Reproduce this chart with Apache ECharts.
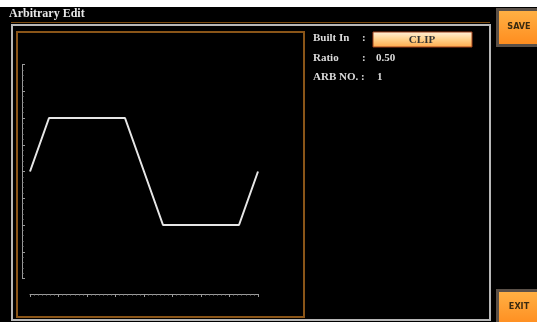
<!DOCTYPE html>
<html><head><meta charset="utf-8">
<script src="https://cdn.jsdelivr.net/npm/echarts@6/dist/echarts.min.js"></script>
<style>html,body{margin:0;padding:0;background:#fff}#c{width:537px;height:322px}</style>
</head><body><div id="c"></div>
<script>
// Waveform sample positions (1/12 of period units) and clipped amplitudes
const xPoints = [0, 1, 5, 7, 11, 12];
const yValues = [0, 0.5, 0.5, -0.5, -0.5, 0];
const panelLabels = ['Built In', 'Ratio', 'ARB NO.'];
const panelValues = ['CLIP', '0.50', '1'];
const titleText = 'Arbitrary Edit';
const buttonLabels = ['SAVE', 'EXIT'];

const data = xPoints.map((x, i) => [x, yValues[i]]);
const serif = '"Liberation Serif", "DejaVu Serif", serif';
const cond = '"DejaVu Sans Condensed", "DejaVu Sans", sans-serif';

const chart = echarts.init(document.getElementById('c'), null, {renderer: 'canvas'});
const orangeGrad = new echarts.graphic.LinearGradient(0, 0, 0, 1, [
  {offset: 0, color: '#ffb347'}, {offset: 1, color: '#ff8a1c'}]);
const clipGrad = new echarts.graphic.LinearGradient(0, 0, 0, 1, [
  {offset: 0, color: '#fff1dc'}, {offset: 0.5, color: '#ffd08a'}, {offset: 1, color: '#ffa94a'}]);
const txt = '#dcdcdc';

const graphics = [
  {type: 'rect', shape: {x: 0, y: 7, width: 537, height: 315}, style: {fill: '#000'}, z: -10},
  {type: 'text', x: 9, y: 8, style: {text: titleText, fill: '#e8e8e8', font: 'bold 12px ' + serif}},
  {type: 'line', shape: {x1: 11, y1: 22.5, x2: 490, y2: 22.5}, style: {stroke: '#7a4a10', lineWidth: 1}},
  {type: 'rect', shape: {x: 12, y: 25, width: 478, height: 295}, style: {fill: 'none', stroke: '#b8b8b8', lineWidth: 2}},
  {type: 'rect', shape: {x: 17, y: 32, width: 287, height: 285}, style: {fill: 'none', stroke: '#8a5518', lineWidth: 2}},
  {type: 'text', x: 313, y: 33, style: {text: panelLabels[0], fill: txt, font: 'bold 11px ' + serif}},
  {type: 'text', x: 362, y: 33, style: {text: ':', fill: txt, font: 'bold 11px ' + serif}},
  {type: 'rect', shape: {x: 373, y: 32, width: 99, height: 15}, style: {fill: clipGrad, stroke: '#a0401a', lineWidth: 1}},
  {type: 'text', x: 422, y: 40, style: {text: panelValues[0], fill: '#333', font: 'bold 11px ' + serif, align: 'center', verticalAlign: 'middle'}},
  {type: 'text', x: 313, y: 53, style: {text: panelLabels[1], fill: txt, font: 'bold 11px ' + serif}},
  {type: 'text', x: 362, y: 53, style: {text: ':', fill: txt, font: 'bold 11px ' + serif}},
  {type: 'text', x: 376, y: 53, style: {text: panelValues[1], fill: txt, font: 'bold 11px ' + serif}},
  {type: 'text', x: 313, y: 72, style: {text: panelLabels[2] + ' :', fill: txt, font: 'bold 11px ' + serif}},
  {type: 'text', x: 377, y: 72, style: {text: panelValues[2], fill: txt, font: 'bold 11px ' + serif}},
  {type: 'rect', shape: {x: 497.5, y: 9.5, width: 42, height: 36}, style: {fill: orangeGrad, stroke: '#5a5048', lineWidth: 3}},
  {type: 'text', x: 519, y: 27, style: {text: buttonLabels[0], fill: '#3a2a10', font: 'bold 9px ' + cond, align: 'center', verticalAlign: 'middle'}},
  {type: 'rect', shape: {x: 497.5, y: 290.5, width: 42, height: 36}, style: {fill: orangeGrad, stroke: '#5a5048', lineWidth: 3}},
  {type: 'text', x: 519, y: 307, style: {text: buttonLabels[1], fill: '#3a2a10', font: 'bold 9px ' + cond, align: 'center', verticalAlign: 'middle'}}
];

chart.setOption({
  backgroundColor: '#fff',
  animation: false,
  grid: {left: 30, right: 537 - 258, top: 64.5, bottom: 322 - 278.5, containLabel: false},
  xAxis: {
    type: 'value', min: 0, max: 12, interval: 1.5, offset: 15.5, position: 'bottom',
    axisLine: {onZero: false, lineStyle: {color: '#9a9a9a', width: 1}},
    axisTick: {show: true, length: 3, inside: false, lineStyle: {color: '#9a9a9a'}},
    minorTick: {show: true, splitNumber: 7, length: 1.5, lineStyle: {color: '#8a8a8a'}},
    axisLabel: {show: false}, splitLine: {show: false}
  },
  yAxis: {
    type: 'value', min: -1, max: 1, interval: 0.25, offset: 8, position: 'left',
    axisLine: {onZero: false, lineStyle: {color: '#9a9a9a', width: 1}},
    axisTick: {show: true, length: 3, inside: true, lineStyle: {color: '#9a9a9a'}},
    minorTick: {show: true, splitNumber: 5, length: 1.5, lineStyle: {color: '#8a8a8a'}},
    axisLabel: {show: false}, splitLine: {show: false}
  },
  series: [{
    type: 'line', data: data, showSymbol: false, symbol: 'none',
    lineStyle: {color: '#e6e6e6', width: 2}, z: 5
  }],
  graphic: graphics
});
</script></body></html>
